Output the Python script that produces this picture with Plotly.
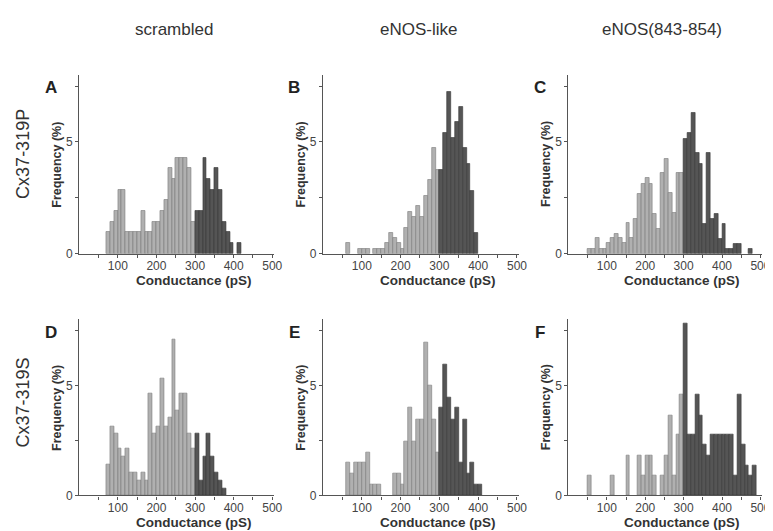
import plotly.graph_objects as go

# ---------------- data (bin start in pS, frequency in %) ----------------
A_light_x = [70, 80, 90, 100, 110, 120, 130, 140, 150, 160, 170, 180, 190, 200, 210, 220, 230, 240, 250, 260, 270, 280, 290]
A_light_y = [0.96, 1.43, 1.91, 2.87, 2.87, 0.96, 0.96, 0.96, 0.96, 1.91, 0.96, 0.96, 1.43, 1.43, 1.91, 2.39, 3.83, 3.35, 4.31, 4.31, 4.31, 3.83, 1.43]
A_dark_x = [300, 310, 320, 330, 340, 350, 360, 370, 380, 390, 410]
A_dark_y = [1.91, 1.91, 4.31, 3.35, 2.87, 3.83, 2.87, 1.43, 0.96, 0.48, 0.48]

B_light_x = [60, 90, 100, 110, 130, 140, 150, 160, 170, 180, 190, 200, 210, 220, 230, 240, 250, 260, 270, 280, 290]
B_light_y = [0.47, 0.24, 0.24, 0.24, 0.24, 0.24, 0.24, 0.47, 0.94, 0.71, 0.47, 0.24, 1.18, 1.89, 1.65, 2.12, 1.65, 2.59, 3.30, 4.72, 3.77]
B_dark_x = [300, 310, 320, 330, 340, 350, 360, 370, 380, 390]
B_dark_y = [3.77, 5.42, 7.25, 5.18, 5.89, 6.55, 4.72, 4.01, 2.83, 0.94]

C_light_x = [50, 60, 70, 80, 90, 100, 110, 120, 130, 140, 150, 160, 170, 180, 190, 200, 210, 220, 230, 240, 250, 260, 270, 280, 290]
C_light_y = [0.22, 0.22, 0.69, 0.22, 0.22, 0.47, 0.69, 0.91, 0.69, 0.47, 1.37, 0.69, 1.57, 2.70, 3.13, 3.38, 3.13, 1.80, 1.13, 3.60, 4.26, 2.72, 1.84, 3.60, 3.60]
C_dark_x = [300, 310, 320, 330, 340, 350, 360, 370, 380, 390, 400, 410, 420, 430, 440, 470]
C_dark_y = [5.15, 5.40, 6.28, 4.50, 4.04, 1.32, 4.50, 1.54, 1.80, 0.67, 1.35, 0.22, 0.22, 0.45, 0.45, 0.22]

D_light_x = [70, 80, 90, 100, 110, 120, 130, 140, 150, 160, 170, 180, 190, 200, 210, 220, 230, 240, 250, 260, 270, 280, 290]
D_light_y = [1.42, 3.16, 2.82, 2.12, 1.78, 2.12, 1.07, 1.07, 0.70, 1.07, 0.70, 4.63, 2.82, 3.16, 5.30, 3.16, 3.54, 7.09, 3.88, 4.63, 4.63, 2.82, 2.12]
D_dark_x = [300, 310, 320, 330, 340, 350, 360, 370]
D_dark_y = [2.82, 0.70, 1.78, 2.82, 1.78, 1.07, 0.70, 0.33]

E_light_x = [60, 70, 80, 90, 100, 110, 120, 130, 140, 180, 190, 200, 210, 220, 230, 240, 250, 260, 270, 280, 290]
E_light_y = [1.49, 0.98, 1.49, 1.49, 1.49, 1.97, 0.49, 0.49, 0.49, 0.98, 0.98, 0.49, 2.46, 3.99, 2.46, 3.46, 3.46, 6.94, 5.00, 3.46, 1.97]
E_dark_x = [300, 310, 320, 330, 340, 350, 360, 370, 380, 390, 400]
E_dark_y = [3.99, 5.96, 4.46, 3.46, 3.99, 1.48, 3.46, 0.98, 1.48, 0.49, 0.49]

F_light_x = [50, 110, 150, 180, 190, 200, 210, 220, 240, 250, 260, 270, 280, 290]
F_light_y = [0.93, 0.93, 1.84, 1.84, 0.93, 1.84, 1.84, 0.93, 0.93, 1.84, 3.66, 0.93, 2.76, 4.58]
F_dark_x = [300, 310, 320, 330, 340, 350, 360, 370, 380, 390, 400, 410, 420, 430, 440, 450, 460, 470, 480]
F_dark_y = [7.80, 2.76, 2.76, 4.58, 3.66, 2.31, 1.84, 2.76, 2.76, 2.76, 2.76, 2.76, 2.76, 0.93, 4.58, 2.31, 1.37, 0.93, 1.37]

BIN_WIDTH = 10
panels = [
    ("A", A_light_x, A_light_y, A_dark_x, A_dark_y),
    ("B", B_light_x, B_light_y, B_dark_x, B_dark_y),
    ("C", C_light_x, C_light_y, C_dark_x, C_dark_y),
    ("D", D_light_x, D_light_y, D_dark_x, D_dark_y),
    ("E", E_light_x, E_light_y, E_dark_x, E_dark_y),
    ("F", F_light_x, F_light_y, F_dark_x, F_dark_y),
]
col_titles = ["scrambled", "eNOS-like", "eNOS(843-854)"]
row_titles = ["Cx37-319P", "Cx37-319S"]
x_tick_vals = [50, 100, 150, 200, 250, 300, 350, 400, 450, 500]
x_tick_text = ["", "100", "", "200", "", "300", "", "400", "", "500"]
y_tick_vals = [0, 2.5, 5, 7.5]
y_tick_text = ["0", "", "5", ""]

# ---------------- layout geometry (px) ----------------
W, H = 773, 531
FONT = "Liberation Sans, Arial, sans-serif"
col_x0 = [72.0, 318.3, 566.3]        # px position of 0 pS
col_scale = [0.39, 0.392, 0.388]      # px per pS
row_y0 = [249.0, 494.0]               # px position of 0 %
row_scale = [22.66, 22.3]             # px per %
XMAX, YMAX = 505, 8

LIGHT_FILL, LIGHT_LINE = "#b0b0b0", "#7a7a7a"
DARK_FILL, DARK_LINE = "#555555", "#363636"
AXIS_COLOR = "#555555"

fig = go.Figure()
layout = dict(
    width=W, height=H, margin=dict(l=0, r=0, t=0, b=0),
    paper_bgcolor="white", plot_bgcolor="white",
    showlegend=False, barmode="overlay", bargap=0,
    font=dict(family=FONT, color="#333333"),
)
annotations = []

for i, (letter, lx, ly, dx, dy) in enumerate(panels):
    r, c = divmod(i, 3)
    n = i + 1
    xa = "x" if n == 1 else f"x{n}"
    ya = "y" if n == 1 else f"y{n}"
    x0 = col_x0[c]
    x1 = x0 + XMAX * col_scale[c]
    y0 = row_y0[r]
    y1 = y0 - YMAX * row_scale[r]
    for bx, by, fill, line in ((lx, ly, LIGHT_FILL, LIGHT_LINE), (dx, dy, DARK_FILL, DARK_LINE)):
        fig.add_trace(go.Bar(
            x=[b + BIN_WIDTH / 2 for b in bx], y=by, width=BIN_WIDTH,
            marker=dict(color=fill, line=dict(color=line, width=0.6)),
            xaxis=xa, yaxis=ya, hoverinfo="x+y",
        ))
    axis_common = dict(
        showline=True, linecolor=AXIS_COLOR, linewidth=1.3,
        ticks="outside", ticklen=3, tickwidth=1, tickcolor=AXIS_COLOR,
        showgrid=False, zeroline=False,
        tickfont=dict(family=FONT, size=12, color="#444444"),
    )
    layout["xaxis" if n == 1 else f"xaxis{n}"] = dict(
        axis_common, domain=[x0 / W, x1 / W], range=[0, XMAX],
        tickvals=x_tick_vals, ticktext=x_tick_text, anchor=ya,
        ticklabelstandoff=-2,
    )
    layout["yaxis" if n == 1 else f"yaxis{n}"] = dict(
        axis_common, domain=[1 - y0 / H, 1 - y1 / H], range=[0, YMAX],
        tickvals=y_tick_vals, ticktext=y_tick_text, anchor=xa,
    )
    # axis titles
    annotations.append(dict(
        text="<b>Conductance (pS)</b>", xref="paper", yref="paper",
        x=(x0 + 297 * col_scale[c]) / W, y=1 - (y0 + 27.5) / H,
        showarrow=False, font=dict(family=FONT, size=13.5, color="#333333"),
        xanchor="center", yanchor="middle",
    ))
    annotations.append(dict(
        text="<b>Frequency (%)</b>", xref="paper", yref="paper",
        x=(x0 - 22) / W, y=1 - (y0 + y1) / 2 / H, textangle=-90,
        showarrow=False, font=dict(family=FONT, size=12.5, color="#333333"),
        xanchor="center", yanchor="middle",
    ))
    # panel letter
    annotations.append(dict(
        text=f"<b>{letter}</b>", xref="paper", yref="paper",
        x=(x0 - 29) / W, y=1 - (y1 + 13) / H,
        showarrow=False, font=dict(family=FONT, size=17, color="#222222"),
        xanchor="center", yanchor="middle",
    ))

for c, t in enumerate(col_titles):
    annotations.append(dict(
        text=t, xref="paper", yref="paper",
        x=(col_x0[c] + 250 * col_scale[c] - 2) / W, y=1 - 22 / H,
        showarrow=False, font=dict(family=FONT, size=17, color="#333333"),
        xanchor="center", yanchor="middle",
    ))
for r, t in enumerate(row_titles):
    annotations.append(dict(
        text=t, xref="paper", yref="paper",
        x=15 / W, y=1 - (148 if r == 0 else 400) / H, textangle=-90,
        showarrow=False, font=dict(family=FONT, size=18, color="#333333"),
        xanchor="center", yanchor="middle",
    ))

layout["annotations"] = annotations
fig.update_layout(**layout)
fig.write_html("out.html")
